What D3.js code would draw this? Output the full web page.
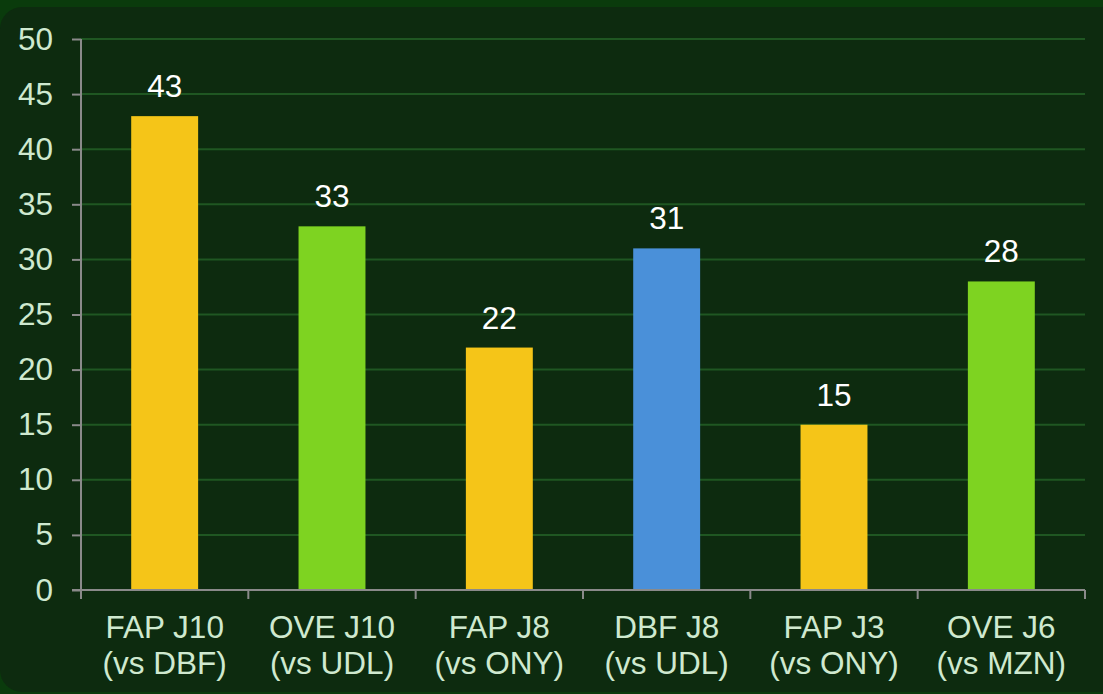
<!DOCTYPE html>
<html>
<head>
<meta charset="utf-8">
<script src="https://cdn.jsdelivr.net/npm/d3@7"></script>
<style>
  html, body { margin: 0; padding: 0; background: #0a3b0c; }
  svg { display: block; }
</style>
</head>
<body>
<div id="chart"></div>
<script>
const width = 1103;
const height = 694;

const matchLines = ["FAP J10", "OVE J10", "FAP J8", "DBF J8", "FAP J3", "OVE J6"];
const opponentLines = ["(vs DBF)", "(vs UDL)", "(vs ONY)", "(vs UDL)", "(vs ONY)", "(vs MZN)"];
const teams = ["FAP", "OVE", "FAP", "DBF", "FAP", "OVE"];
const values = [43, 33, 22, 31, 15, 28];
const yTicks = [0, 5, 10, 15, 20, 25, 30, 35, 40, 45, 50];

const teamColor = { FAP: "#f5c518", OVE: "#7ed321", DBF: "#4a90d9" };

const margin = { top: 39, right: 18, bottom: 104, left: 81 };
const innerW = width - margin.left - margin.right;
const innerH = height - margin.top - margin.bottom;

const svg = d3
  .select("#chart")
  .append("svg")
  .attr("width", width)
  .attr("height", height);

// panel
svg
  .append("rect")
  .attr("x", 0)
  .attr("y", 7)
  .attr("width", width + 20)
  .attr("height", height - 9)
  .attr("rx", 22)
  .attr("fill", "#0d2b0f");

const g = svg.append("g").attr("transform", `translate(${margin.left},${margin.top})`);

const x = d3.scaleBand().domain(d3.range(values.length)).range([0, innerW]).padding(0);
const y = d3.scaleLinear().domain([0, 50]).range([innerH, 0]);

// grid
g.selectAll("line.grid")
  .data(yTicks.filter((t) => t > 0))
  .join("line")
  .attr("class", "grid")
  .attr("x1", 0)
  .attr("x2", innerW)
  .attr("y1", (d) => y(d))
  .attr("y2", (d) => y(d))
  .attr("stroke", "#1f5722")
  .attr("stroke-width", 2);

// bars
const barW = x.bandwidth() * 0.4;
g.selectAll("rect.bar")
  .data(values)
  .join("rect")
  .attr("class", "bar")
  .attr("x", (d, i) => x(i) + (x.bandwidth() - barW) / 2)
  .attr("y", (d) => y(d))
  .attr("width", barW)
  .attr("height", (d) => innerH - y(d))
  .attr("fill", (d, i) => teamColor[teams[i]]);

// value labels
g.selectAll("text.val")
  .data(values)
  .join("text")
  .attr("class", "val")
  .attr("x", (d, i) => x(i) + x.bandwidth() / 2)
  .attr("y", (d) => y(d) - 19)
  .attr("text-anchor", "middle")
  .attr("fill", "#ffffff")
  .attr("font-family", "Liberation Sans, Arial, sans-serif")
  .attr("font-size", 31.5)
  .text((d) => d);

// y axis
const yAxis = g
  .append("g")
  .call(d3.axisLeft(y).tickValues(yTicks).tickSize(9).tickPadding(19).tickSizeOuter(0));
yAxis.select(".domain").attr("stroke", "#8a8a8a").attr("stroke-width", 2).attr("d", `M0,0V${innerH + 8}`);
yAxis.selectAll(".tick line").attr("stroke", "#8a8a8a").attr("stroke-width", 2);
yAxis
  .selectAll(".tick text")
  .attr("fill", "#cfe9cf")
  .attr("font-family", "Liberation Sans, Arial, sans-serif")
  .attr("font-size", 31.5);

// x axis
const xAxisG = g.append("g").attr("transform", `translate(0,${innerH})`);
xAxisG
  .append("line")
  .attr("x1", -9)
  .attr("x2", innerW)
  .attr("stroke", "#8a8a8a")
  .attr("stroke-width", 2);
xAxisG
  .selectAll("line.xtick")
  .data(d3.range(values.length + 1))
  .join("line")
  .attr("class", "xtick")
  .attr("x1", (d) => (d < values.length ? x(d) : innerW))
  .attr("x2", (d) => (d < values.length ? x(d) : innerW))
  .attr("y1", 0)
  .attr("y2", 9)
  .attr("stroke", "#8a8a8a")
  .attr("stroke-width", 2);

const xLabels = xAxisG
  .selectAll("text.xl")
  .data(matchLines)
  .join("text")
  .attr("class", "xl")
  .attr("text-anchor", "middle")
  .attr("fill", "#cfe9cf")
  .attr("font-family", "Liberation Sans, Arial, sans-serif")
  .attr("font-size", 31.5);
xLabels
  .append("tspan")
  .attr("x", (d, i) => x(i) + x.bandwidth() / 2)
  .attr("y", 48)
  .text((d) => d);
xLabels
  .append("tspan")
  .attr("x", (d, i) => x(i) + x.bandwidth() / 2)
  .attr("y", 84)
  .text((d, i) => opponentLines[i]);
</script>
</body>
</html>
